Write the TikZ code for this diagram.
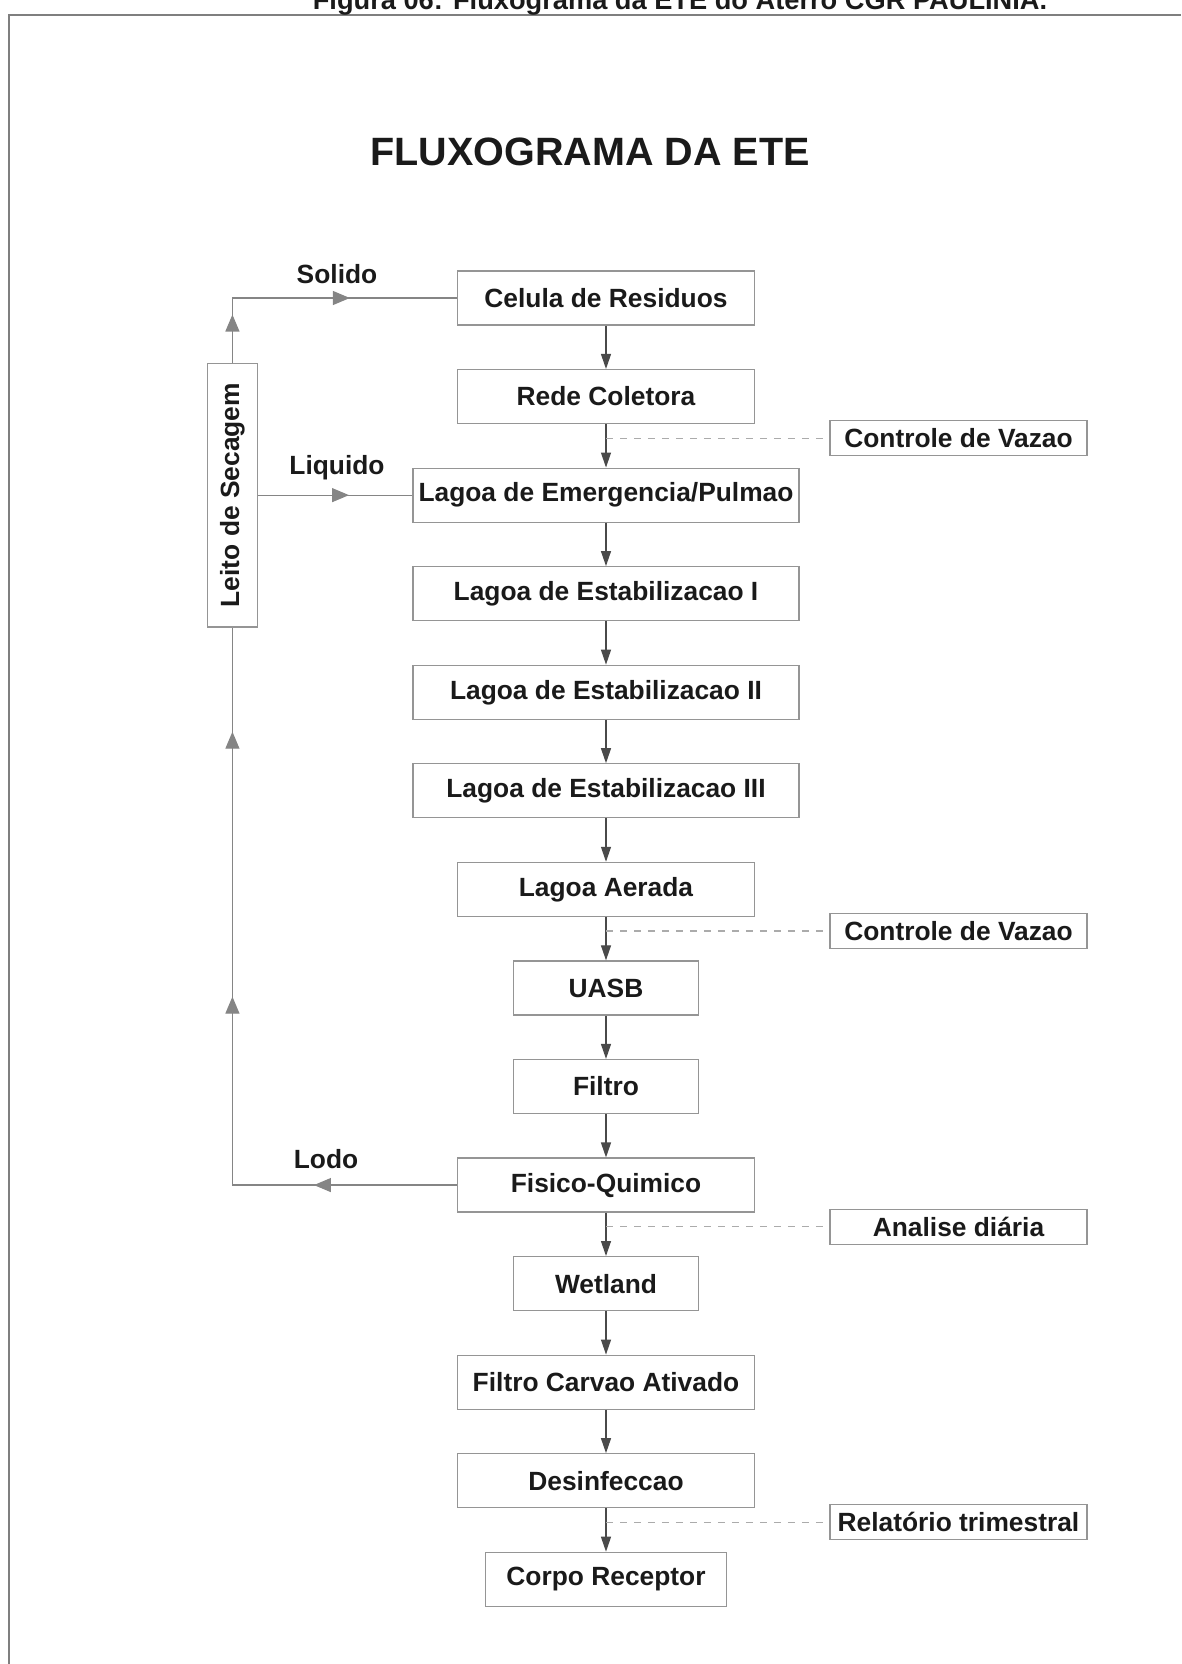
\documentclass[tikz,border=0pt]{standalone}
\usepackage{fontspec}
\setmainfont{Liberation Sans}
\usetikzlibrary{arrows.meta, positioning, calc, decorations.markings}

\definecolor{boxgray}{HTML}{959595}
\definecolor{flowgray}{HTML}{4A4A4A}
\definecolor{loopgray}{HTML}{858585}
\definecolor{dashgray}{HTML}{ABABAB}
\definecolor{textblack}{HTML}{1A1A1A}
\definecolor{framegray}{HTML}{7F7F7F}

\begin{document}
\begin{tikzpicture}[
    x=0.02cm, y=-0.02cm,
    font=\bfseries\fontsize{15}{17}\selectfont,
    >={Triangle[width=0.2cm,length=0.3cm]},
    node distance=0.867cm, % espaco vertical entre etapas
    % --- estilos ---
    % etapas do tratamento
    etapa/.style={draw=boxgray, line width=0.7pt, minimum width=5.94cm, minimum height=1.08cm, inner sep=0pt, text=textblack},
    etapalarga/.style={etapa, minimum width=7.72cm},
    etapacurta/.style={etapa, minimum width=3.7cm},
    % caixas de controle/monitoramento
    controle/.style={draw=boxgray, line width=0.7pt, minimum width=5.14cm, minimum height=0.7cm, inner sep=0pt, text=textblack},
    % leito de secagem (vertical)
    secagem/.style={draw=boxgray, line width=0.7pt, minimum width=5.28cm, minimum height=1.0cm, inner sep=0pt, rotate=90, text=textblack},
    rotulo/.style={text=textblack},
    % linhas
    fluxo/.style={->, draw=flowgray, line width=0.7pt},
    tracejado/.style={draw=dashgray, line width=0.6pt, dash pattern=on 0.14cm off 0.14cm},
    retorno/.style={draw=loopgray, line width=0.7pt},
    meiaseta/.style={postaction={decorate, decoration={markings, mark=at position #1 with {\arrow{Triangle[width=0.28cm,length=0.34cm]}}}}},
    moldura/.style={draw=framegray, line width=0.9pt}
]
\useasboundingbox (0,0) rectangle (1181,1664);
\clip (0,0) rectangle (1181,1664);

% --- 1. Moldura e titulos ---
\draw[moldura] (9,1664) -- (9,15) -- (1181,15);
\node[anchor=base, rotulo, font=\bfseries\fontsize{15.5}{18}\selectfont] (legenda) at (680,9) {Figura 06: Fluxograma da ETE do Aterro CGR PAULÍNIA.};
\node[rotulo, font=\bfseries\fontsize{22.5}{27}\selectfont] (titulo) at (590,152) {FLUXOGRAMA DA ETE};

% --- 2. Etapas (posicionamento relativo) ---
\node[etapa] (celula) at (606,298) {Celula de Residuos};
\node[etapa, below=of celula] (rede) {Rede Coletora};
\node[etapalarga, below=of rede] (emergencia) {Lagoa de Emergencia/Pulmao};
\node[etapalarga, below=of emergencia] (estab1) {Lagoa de Estabilizacao I};
\node[etapalarga, below=of estab1] (estab2) {Lagoa de Estabilizacao II};
\node[etapalarga, below=of estab2] (estab3) {Lagoa de Estabilizacao III};
\node[etapa, below=of estab3] (aerada) {Lagoa Aerada};
\node[etapacurta, below=of aerada] (uasb) {UASB};
\node[etapacurta, below=of uasb] (filtro) {Filtro};
\node[etapa, below=of filtro] (fisico) {Fisico-Quimico};
\node[etapacurta, below=of fisico] (wetland) {Wetland};
\node[etapa, below=of wetland] (carvao) {Filtro Carvao Ativado};
\node[etapa, below=of carvao] (desinf) {Desinfeccao};
\node[etapa, minimum width=4.82cm, below=of desinf] (receptor) {Corpo Receptor};

% fluxo principal
\foreach \a/\b in {celula/rede, rede/emergencia, emergencia/estab1, estab1/estab2,
                   estab2/estab3, estab3/aerada, aerada/uasb, uasb/filtro, filtro/fisico,
                   fisico/wetland, wetland/carvao, carvao/desinf, desinf/receptor}
    \draw[fluxo] (\a) -- (\b);

% --- 3. Controles (a direita) ---
\node[controle] (vazao1) at ($(rede.south)+(352.5,14)$) {Controle de Vazao};
\node[controle] (vazao2) at ($(aerada.south)+(352.5,14)$) {Controle de Vazao};
\node[controle] (analise) at ($(fisico.south)+(352.5,14)$) {Analise diária};
\node[controle] (relatorio) at ($(desinf.south)+(352.5,14)$) {Relatório trimestral};

\foreach \c in {vazao1, vazao2, analise, relatorio}
    \draw[tracejado] (celula.south |- \c.west) -- (\c.west);

% --- 4. Leito de secagem e retornos ---
\node[secagem] (leito) at ($(emergencia.west)+(-180,0)$) {Leito de Secagem};
\coordinate (cantoSup) at (leito.center |- celula.west);
\coordinate (cantoInf) at (leito.center |- fisico.west);

% solido
\draw[retorno, meiaseta=0.96cm, meiaseta=3.64cm] (leito.east) -- (cantoSup) -- (celula.west);
% liquido
\draw[retorno, meiaseta=1.82cm] (leito.south) -- (emergencia.west);
% lodo
\draw[retorno, meiaseta=2.86cm, meiaseta=8.26cm, meiaseta=13.56cm] (fisico.west) -- (cantoInf) -- (leito.west);

\node[rotulo] (solido) at (337,274) {Solido};
\node[rotulo] (liquido) at (337,468) {Liquido};
\node[rotulo] (lodo) at (326,1159) {Lodo};

\end{tikzpicture}
\end{document}
